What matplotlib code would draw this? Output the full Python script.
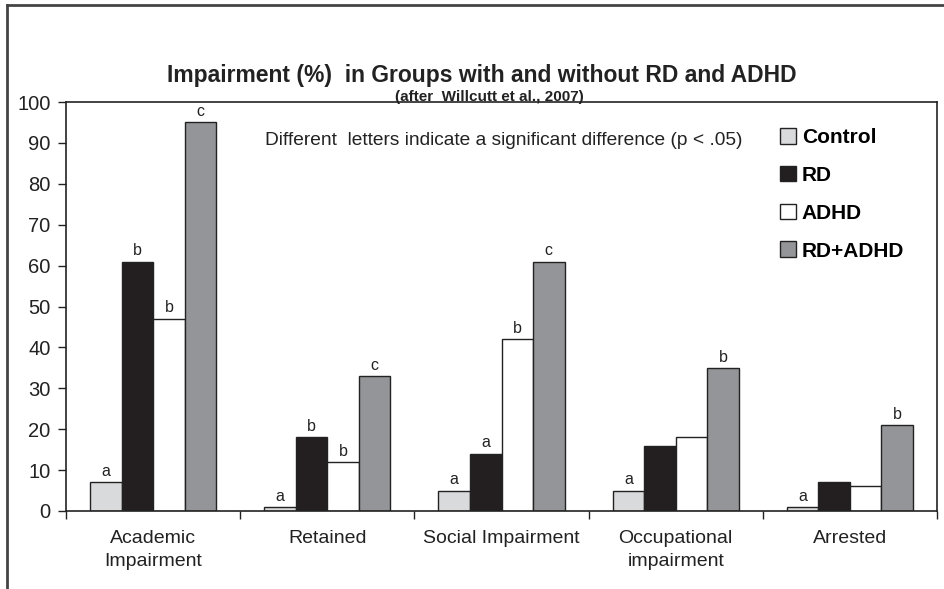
import matplotlib
matplotlib.use("Agg")
import matplotlib.pyplot as plt
import numpy as np
from matplotlib.lines import Line2D
from matplotlib.patches import Patch

plt.rcParams["font.family"] = ["Liberation Sans", "DejaVu Sans"]

categories = ["Academic\nImpairment", "Retained", "Social Impairment",
              "Occupational\nimpairment", "Arrested"]
groups = ["Control", "RD", "ADHD", "RD+ADHD"]
control = [7, 1, 5, 5, 1]
rd = [61, 18, 14, 16, 7]
adhd = [47, 12, 42, 18, 6]
rd_adhd = [95, 33, 61, 35, 21]
letters = [
    ["a", "a", "a", "a", "a"],
    ["b", "b", "a", "", ""],
    ["b", "b", "b", "", ""],
    ["c", "c", "c", "b", "b"],
]
colours = ["#d9dadc", "#231f20", "#ffffff", "#939598"]

fig = plt.figure(figsize=(9.45, 5.89), dpi=100)
ax = fig.add_axes([66 / 945, 1 - 511 / 589, 871 / 945, 409 / 589])

x = np.arange(len(categories)) + 0.5
width = 0.181
series = [control, rd, adhd, rd_adhd]
for i, (vals, col) in enumerate(zip(series, colours)):
    pos = x + (i - 1.5) * width
    ax.bar(pos, vals, width=width, color=col, edgecolor="#222222",
           linewidth=1.0, zorder=2)
    for xp, v, lab in zip(pos, vals, letters[i]):
        if lab:
            ax.text(xp, v + 0.8, lab, ha="center", va="bottom",
                    fontsize=11.5, color="#222222")

ax.set_xlim(0, len(categories))
ax.set_ylim(0, 100)
ax.set_yticks(np.arange(0, 101, 10))
ax.tick_params(axis="y", direction="out", length=6, width=1.0,
               labelsize=14.5, pad=5, colors="#222222")
ax.set_xticks(np.arange(len(categories) + 1))
ax.set_xticklabels([])
ax.set_xticks(x, minor=True)
ax.set_xticklabels(categories, minor=True, fontsize=14, color="#222222",
                   linespacing=1.45)
ax.tick_params(axis="x", which="major", direction="out", length=6, width=1.0,
               colors="#222222")
ax.tick_params(axis="x", which="minor", length=0, pad=14)
for s in ax.spines.values():
    s.set_linewidth(1.2)
    s.set_color("#222222")

ax.text(0.228, 0.907, "Different  letters indicate a significant difference (p < .05)",
        transform=ax.transAxes, fontsize=13.8, color="#222222", va="center")

handles = [Patch(facecolor=c, edgecolor="#222222", linewidth=1.0) for c in colours]
leg = ax.legend(handles, groups, loc="upper left", bbox_to_anchor=(0.81, 0.957),
                frameon=False, prop={"weight": "bold", "size": 15},
                handlelength=0.78, handleheight=0.78, handletextpad=0.28,
                labelspacing=0.9, borderaxespad=0)

fig.text(0.51, 0.871, "Impairment (%)  in Groups with and without RD and ADHD",
         ha="center", va="center", fontsize=16.5, fontweight="bold",
         color="#222222")
fig.text(0.518, 0.835, "(after  Willcutt et al., 2007)", ha="center",
         va="center", fontsize=11, fontweight="bold", color="#222222")

# outer frame (top and left only)
fig.add_artist(Line2D([7 / 945, 1], [1 - 5 / 589, 1 - 5 / 589],
                      transform=fig.transFigure, color="#444444", linewidth=2))
fig.add_artist(Line2D([7 / 945, 7 / 945], [0, 1 - 5 / 589],
                      transform=fig.transFigure, color="#444444", linewidth=2))

fig.savefig("out.png", dpi=100)
